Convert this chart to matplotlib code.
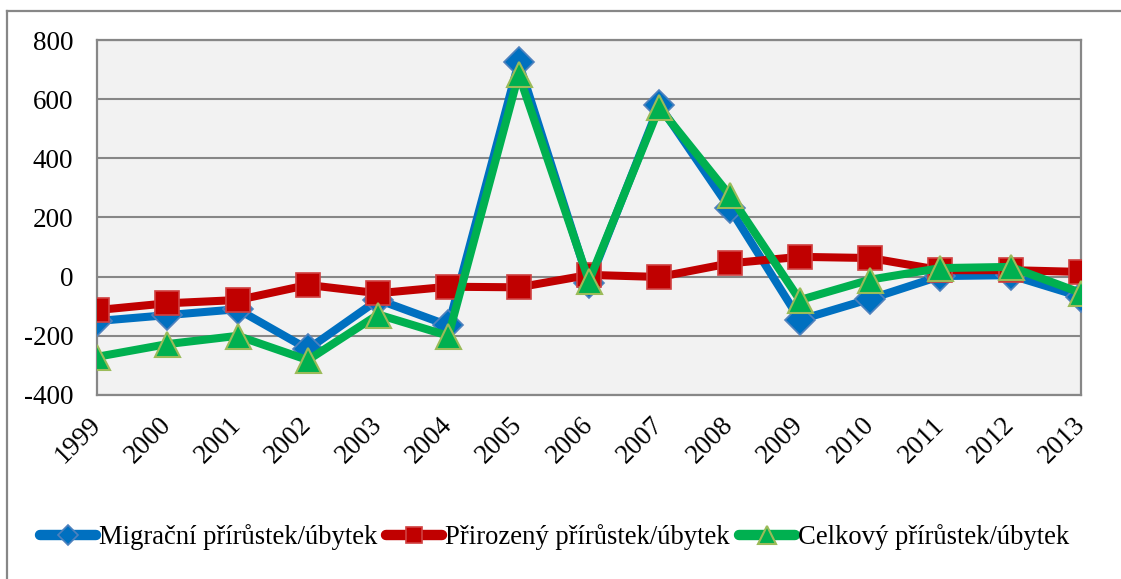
import numpy as np
import matplotlib
matplotlib.use("Agg")
import matplotlib.pyplot as plt
from matplotlib.lines import Line2D

# --- data ---
years = ["1999", "2000", "2001", "2002", "2003", "2004", "2005", "2006",
         "2007", "2008", "2009", "2010", "2011", "2012", "2013"]
migracni = [-150, -130, -110, -245, -78, -165, 725, -22, 580, 232, -146, -75, 2, 5, -68]
prirozeny = [-113, -90, -79, -28, -56, -34, -36, 6, -1, 45, 67, 63, 22, 22, 16]
celkovy = [-271, -228, -200, -282, -128, -200, 684, -15, 572, 276, -79, -10, 29, 33, -55]
labels = ["Migrační přírůstek/úbytek", "Přirozený přírůstek/úbytek",
          "Celkový přírůstek/úbytek"]

plt.rcParams['font.family'] = ['Liberation Serif', 'DejaVu Serif']
plt.rcParams['axes.unicode_minus'] = False
W, H = 1121, 579
fs = 19.5
fig = plt.figure(figsize=(W / 100, H / 100), dpi=100)

# outer chart border (only top/left visible in the picture)
fig.add_artist(Line2D([7 / W, 1.0], [1 - 11 / H, 1 - 11 / H], color="#878787", lw=1.6))
fig.add_artist(Line2D([7 / W, 7 / W], [1 - 11 / H, 0.0], color="#878787", lw=1.6))

ax = fig.add_axes([97 / W, (H - 395) / H, 984 / W, 355 / H])
ax.set_facecolor("#F2F2F2")
x = np.arange(len(years))

ax.plot(x, migracni, color="#0070C0", lw=5.8, marker="D", ms=15,
        mfc="#0070C0", mec="#4F81BD", mew=1.2, zorder=3, label=labels[0],
        solid_joinstyle="round")
ax.plot(x, prirozeny, color="#C00000", lw=5.8, marker="s", ms=17,
        mfc="#C00000", mec="#D04040", mew=1.2, zorder=4, label=labels[1],
        solid_joinstyle="round")
ax.plot(x, celkovy, color="#00B050", lw=5.8, marker="^", ms=18,
        mfc="#00B050", mec="#9BBB59", mew=1.5, zorder=5, label=labels[2],
        solid_joinstyle="round")

ax.set_xlim(0, len(years) - 1)
ax.set_ylim(-400, 800)
ax.set_yticks(np.arange(-400, 801, 200))
ax.yaxis.grid(True, color="#878787", lw=1.5)
ax.set_axisbelow(True)
for s in ax.spines.values():
    s.set_color("#878787")
    s.set_linewidth(1.6)
ax.tick_params(axis="both", length=0, labelsize=fs)
ax.tick_params(axis="y", pad=17)
ax.tick_params(axis="x", pad=19)
ax.set_xticks(x)
ax.set_xticklabels(years, rotation=45, ha="right", va="center",
                   rotation_mode="anchor")

leg = fig.legend(loc="center left", bbox_to_anchor=(40 / W, 1 - 537 / H),
                 ncol=3, frameon=False, fontsize=19.2, handlelength=2.1,
                 handletextpad=0.1, columnspacing=0.35, borderaxespad=0,
                 borderpad=0, numpoints=1, markerscale=0.7)
for h in leg.legend_handles:
    h.set_linewidth(7.5)
    h.set_solid_capstyle("round")

fig.savefig("out.png", dpi=100)
